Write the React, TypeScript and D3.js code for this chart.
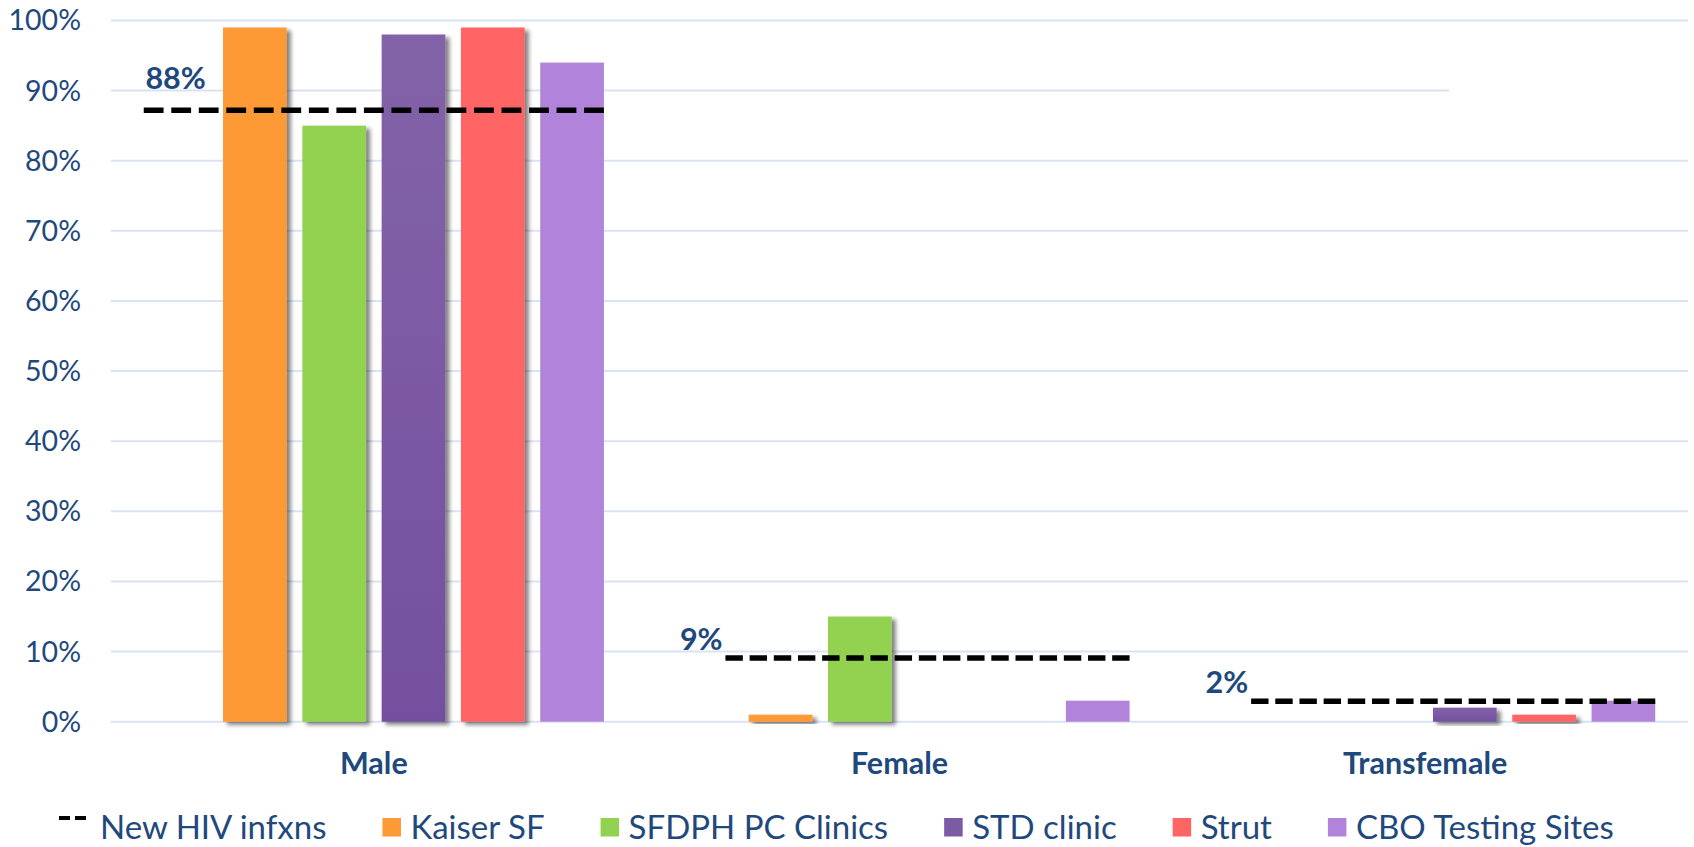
import { useEffect, useRef } from 'react';
import * as d3 from 'd3';

const WIDTH = 1694;
const HEIGHT = 847;

const categories = ['Male', 'Female', 'Transfemale'];
const series = ['New HIV infxns', 'Kaiser SF', 'SFDPH PC Clinics', 'STD clinic', 'Strut', 'CBO Testing Sites'];
const kaiser = [0.99, 0.01, 0];
const sfdph = [0.85, 0.15, 0];
const stdClinic = [0.98, 0, 0.02];
const strut = [0.99, 0, 0.01];
const cbo = [0.94, 0.03, 0.03];
const newInfections = [0.872, 0.091, 0.029];
const newInfectionLabels = ['88%', '9%', '2%'];
const yTicks = [0, 0.1, 0.2, 0.3, 0.4, 0.5, 0.6, 0.7, 0.8, 0.9, 1];

const barSeries = [
  { name: 'Kaiser SF', values: kaiser, color: '#FD9A35', shadow: true },
  { name: 'SFDPH PC Clinics', values: sfdph, color: '#93D151', shadow: true },
  { name: 'STD clinic', values: stdClinic, color: 'url(#purpleGrad)', swatch: '#7D5AA4', shadow: true },
  { name: 'Strut', values: strut, color: '#FF6565', shadow: true },
  { name: 'CBO Testing Sites', values: cbo, color: '#B283DA', shadow: false },
];

const TEXT = '#1F497D';
const FONT = 'Lato, "Open Sans", sans-serif';
const PLOT = { left: 111, right: 1688, top: 20.5, bottom: 721.7 };

export default function App() {
  const svgRef = useRef<SVGSVGElement>(null);

  useEffect(() => {
    if (!svgRef.current) return;
    const svg = d3.select(svgRef.current);
    svg.selectAll('*').remove();

    const defs = svg.append('defs');
    const grad = defs
      .append('linearGradient')
      .attr('id', 'purpleGrad')
      .attr('x1', 0)
      .attr('y1', 0)
      .attr('x2', 0)
      .attr('y2', 1);
    grad.append('stop').attr('offset', '0%').attr('stop-color', '#8363A8');
    grad.append('stop').attr('offset', '100%').attr('stop-color', '#74509F');

    const filter = defs
      .append('filter')
      .attr('id', 'shadow')
      .attr('x', '-20%')
      .attr('y', '-20%')
      .attr('width', '150%')
      .attr('height', '150%');
    filter
      .append('feDropShadow')
      .attr('dx', 4)
      .attr('dy', 3)
      .attr('stdDeviation', 2)
      .attr('flood-color', '#000')
      .attr('flood-opacity', 0.5);

    const x0 = d3.scaleBand().domain(categories).range([PLOT.left, PLOT.right]);
    const x1 = d3
      .scaleBand()
      .domain(series)
      .range([0, x0.bandwidth()])
      .paddingInner(0.197)
      .paddingOuter(0.413);
    const y = d3.scaleLinear().domain([0, 1]).range([PLOT.bottom, PLOT.top]);

    // gridlines (the 90% one is cut short in the original, behind a hidden box)
    svg
      .append('g')
      .selectAll('line')
      .data(yTicks)
      .enter()
      .append('line')
      .attr('x1', PLOT.left)
      .attr('x2', (d) => (d === 0.9 ? 1449 : PLOT.right))
      .attr('y1', (d) => y(d))
      .attr('y2', (d) => y(d))
      .attr('stroke', '#D9E3F4')
      .attr('stroke-width', 2);

    // y labels
    svg
      .append('g')
      .selectAll('text')
      .data(yTicks)
      .enter()
      .append('text')
      .attr('x', 81)
      .attr('y', (d) => y(d))
      .attr('dy', '0.35em')
      .attr('text-anchor', 'end')
      .attr('font-family', FONT)
      .attr('font-size', 28.5)
      .attr('fill', TEXT)
      .text((d) => d3.format('.0%')(d));

    // bars
    barSeries.forEach((s) => {
      svg
        .append('g')
        .selectAll('rect')
        .data(categories.map((c, i) => ({ c, v: s.values[i] })).filter((d) => d.v > 0))
        .enter()
        .append('rect')
        .attr('x', (d) => (x0(d.c) ?? 0) + (x1(s.name) ?? 0))
        .attr('y', (d) => y(d.v))
        .attr('width', x1.bandwidth())
        .attr('height', (d) => PLOT.bottom - y(d.v))
        .attr('fill', s.color)
        .attr('filter', s.shadow ? 'url(#shadow)' : null);
    });

    // new infection dashed lines
    const lineG = svg.append('g');
    categories.forEach((c, i) => {
      const slot0 = (x0(c) ?? 0) + (x1(series[0]) ?? 0);
      const xs = i === 0 ? slot0 : slot0 + x1.bandwidth() * 0.88;
      const xe = (x0(c) ?? 0) + (x1(series[5]) ?? 0) + x1.bandwidth();
      const len = xe - xs;
      const period = len / 16.72;
      lineG
        .append('line')
        .attr('x1', xs)
        .attr('x2', xe)
        .attr('y1', y(newInfections[i]))
        .attr('y2', y(newInfections[i]))
        .attr('stroke', '#000')
        .attr('stroke-width', 5.5)
        .attr('stroke-dasharray', `${period * 0.72},${period * 0.28}`);
      lineG
        .append('text')
        .attr('x', slot0 + x1.bandwidth() / 2)
        .attr('y', y(newInfections[i]) - (i === 0 ? 32 : 19))
        .attr('dy', '0.35em')
        .attr('text-anchor', 'middle')
        .attr('font-family', FONT)
        .attr('font-weight', 'bold')
        .attr('font-size', 30.5)
        .attr('fill', TEXT)
        .text(newInfectionLabels[i]);
    });

    // category labels
    svg
      .append('g')
      .selectAll('text')
      .data(categories)
      .enter()
      .append('text')
      .attr('x', (d) => (x0(d) ?? 0) + x0.bandwidth() / 2)
      .attr('y', 763)
      .attr('dy', '0.35em')
      .attr('text-anchor', 'middle')
      .attr('font-family', FONT)
      .attr('font-weight', 'bold')
      .attr('font-size', 30.5)
      .attr('fill', TEXT)
      .text((d) => d);

    // legend
    const legend = svg.append('g');
    const ly = 827;
    let cx = 59;
    legend
      .append('line')
      .attr('x1', cx)
      .attr('x2', cx + 28)
      .attr('y1', ly - 9)
      .attr('y2', ly - 9)
      .attr('stroke', '#000')
      .attr('stroke-width', 4)
      .attr('stroke-dasharray', '11,5');
    cx += 28 + 13;
    const items = [{ name: series[0], color: '' }, ...barSeries.map((s) => ({ name: s.name, color: s.swatch ?? s.color }))];
    items.forEach((it, i) => {
      if (i > 0) {
        legend
          .append('rect')
          .attr('x', cx)
          .attr('y', ly - 9)
          .attr('width', 18.5)
          .attr('height', 18.5)
          .attr('fill', it.color);
        cx += 18.5 + 9.5;
      }
      const t = legend
        .append('text')
        .attr('x', cx)
        .attr('y', ly)
        .attr('dy', '0.35em')
        .attr('font-family', FONT)
        .attr('font-size', 33)
        .attr('fill', TEXT)
        .text(it.name);
      const w = (t.node() as SVGTextElement).getComputedTextLength();
      cx += w + 56;
    });
  }, []);

  return (
    <svg
      ref={svgRef}
      width={WIDTH}
      height={HEIGHT}
      style={{ position: 'absolute', left: 0, top: 0, background: '#fff' }}
    />
  );
}
